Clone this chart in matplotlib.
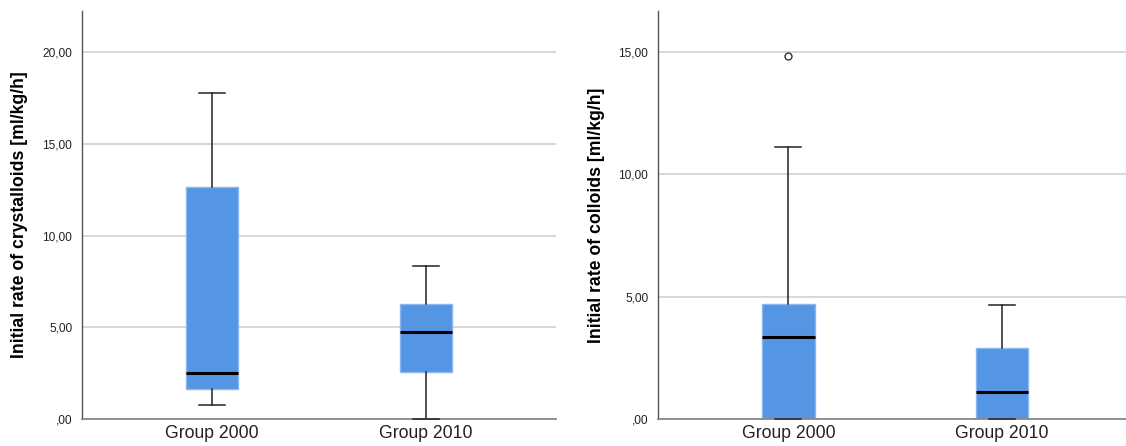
import matplotlib
matplotlib.use("Agg")
import matplotlib.pyplot as plt

plt.rcParams['font.family'] = ['Liberation Sans', 'DejaVu Sans']

groups = ["Group 2000", "Group 2010"]

# Crystalloids: five-number summaries per group
cryst_low = [0.75, 0.0]
cryst_q1 = [1.62, 2.58]
cryst_med = [2.49, 4.73]
cryst_q3 = [12.67, 6.25]
cryst_high = [17.79, 8.33]
cryst_fliers = [[], []]

# Colloids: five-number summaries per group
coll_low = [0.0, 0.0]
coll_q1 = [0.0, 0.0]
coll_med = [3.35, 1.12]
coll_q3 = [4.69, 2.92]
coll_high = [11.13, 4.66]
coll_fliers = [[14.83], []]

cryst_ticks = [0, 5, 10, 15, 20]
coll_ticks = [0, 5, 10, 15]
cryst_label = "Initial rate of crystalloids [ml/kg/h]"
coll_label = "Initial rate of colloids [ml/kg/h]"

BOX_FILL = "#5596e4"
BOX_EDGE = "#8db6ee"
GRID = "#d4d4d4"


def build_stats(low, q1, med, q3, high, fliers):
    return [dict(whislo=a, q1=b, med=c, q3=d, whishi=e, fliers=f, label=g)
            for a, b, c, d, e, f, g in zip(low, q1, med, q3, high, fliers, groups)]


def tick_fmt(v):
    s = f"{v:.2f}".replace(".", ",")
    return s[1:] if s.startswith("0") else s


def draw(ax, stats, ticks, ylim, xlim, ylabel, label_x):
    ax.bxp(stats, positions=[1, 2], widths=0.245, capwidths=0.122,
           patch_artist=True, showfliers=True,
           boxprops=dict(facecolor=BOX_FILL, edgecolor=BOX_EDGE, linewidth=1.0),
           medianprops=dict(color="black", linewidth=2.2, zorder=3),
           whiskerprops=dict(color="#222222", linewidth=1.1),
           capprops=dict(color="#222222", linewidth=1.1, zorder=4, clip_on=False),
           flierprops=dict(marker="o", markersize=5, markerfacecolor="none",
                           markeredgecolor="#333333", markeredgewidth=1.0))
    ax.set_ylim(*ylim)
    ax.set_xlim(*xlim)
    ax.set_yticks(ticks)
    ax.set_yticklabels([tick_fmt(t) for t in ticks], fontsize=8.6, color="#222222")
    ax.set_xticks([1, 2])
    ax.set_xticklabels(groups, fontsize=12.7, color="#222222")
    ax.tick_params(axis="both", length=0)
    ax.tick_params(axis="y", pad=7)
    ax.tick_params(axis="x", pad=4)
    ax.yaxis.grid(True, color=GRID, linewidth=1.3)
    ax.set_axisbelow(True)
    for side in ("top", "right"):
        ax.spines[side].set_visible(False)
    ax.spines["left"].set_color("#555555")
    ax.spines["bottom"].set_color("#888888")
    ax.spines["left"].set_linewidth(1.0)
    ax.spines["bottom"].set_linewidth(1.3)
    ax.set_ylabel(ylabel, fontsize=12.7, fontweight="bold", color="black")
    ax.yaxis.set_label_coords(label_x, 0.5)


W, H = 1126, 446
fig = plt.figure(figsize=(W / 100, H / 100), dpi=100)
bottom = (H - 419) / H
height = (419 - 11) / H
ax1 = fig.add_axes([82 / W, bottom, (556 - 82) / W, height])
ax2 = fig.add_axes([658 / W, bottom, (1126 - 658) / W, height])

draw(ax1, build_stats(cryst_low, cryst_q1, cryst_med, cryst_q3, cryst_high, cryst_fliers),
     cryst_ticks, (0, 22.25), (0.39, 2.61), cryst_label, -0.114)
draw(ax2, build_stats(coll_low, coll_q1, coll_med, coll_q3, coll_high, coll_fliers),
     coll_ticks, (0, 16.67), (0.39, 2.58), coll_label, -0.113)

fig.savefig("out.png", dpi=100)
